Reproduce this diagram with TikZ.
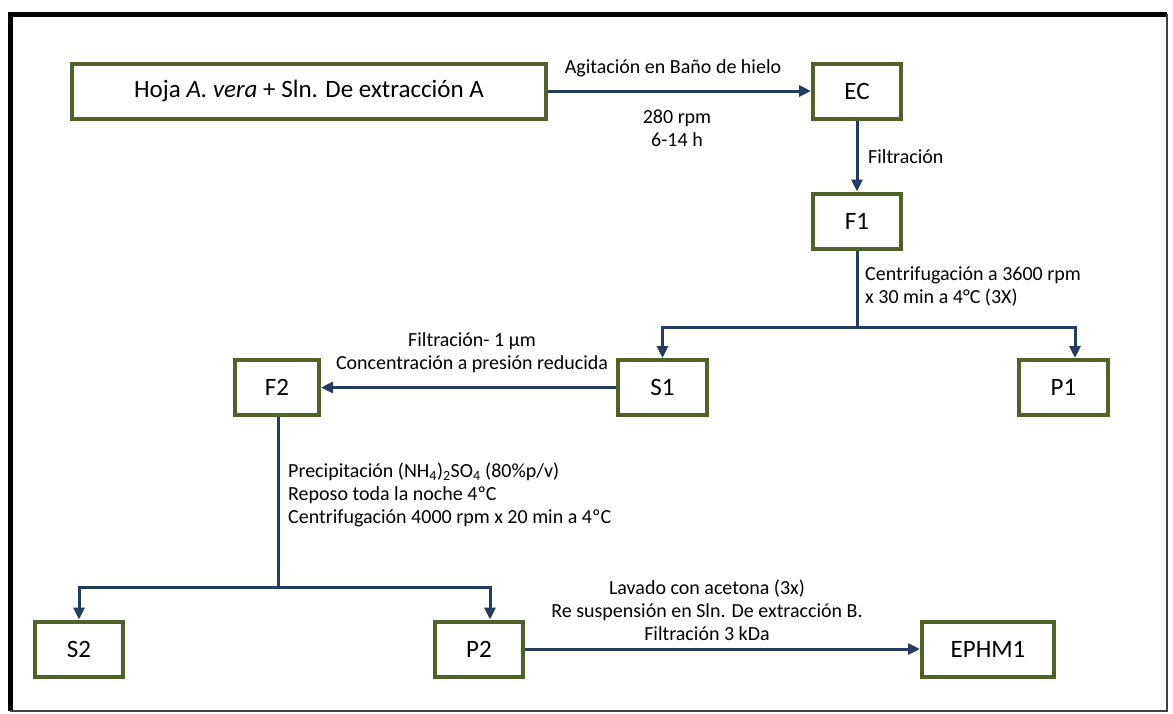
\documentclass[tikz,border=0pt]{standalone}
\usepackage{fontspec}
\setmainfont{Carlito}
\usetikzlibrary{arrows.meta}

\definecolor{boxgreen}{RGB}{79,98,40}
\definecolor{flowblue}{RGB}{36,60,96}

\tikzset{
  stage/.style={draw=boxgreen, line width=4pt, fill=white, minimum height=55pt,
    inner sep=0pt, font=\fontsize{25}{28}\selectfont},
  flow/.style={draw=flowblue, line width=3pt, -{Triangle[length=12pt,width=11pt]}},
  link/.style={draw=flowblue, line width=3pt},
  note/.style={font=\fontsize{20}{23}\selectfont, inner sep=0pt},
}

\begin{document}
\begin{tikzpicture}[x=1pt,y=-1pt]
    \useasboundingbox (0,0) rectangle (1173,713);

    % Outer frame
    \draw[line width=5pt] (10,711) -- (10,14) -- (1167,14);
    \draw[line width=2pt, black!75] (1167,14) -- (1167,711) -- (10,711);

    % Stages of the extraction
    \node[stage, minimum width=474pt] (hoja) at (309,91) {Hoja \textit{A. vera} + Sln. De extracción A};
    \node[stage, minimum width=88pt] (ec) at (857,91) {EC};
    \node[stage, minimum width=88pt] (f1) at (857,221) {F1};
    \node[stage, minimum width=89pt] (s1) at (662.5,387.5) {S1};
    \node[stage, minimum width=89pt] (p1) at (1063.5,387.5) {P1};
    \node[stage, minimum width=84pt] (f2) at (277,387.5) {F2};
    \node[stage, minimum width=88pt] (s2) at (79,649) {S2};
    \node[stage, minimum width=88pt] (p2) at (479,649) {P2};
    \node[stage, minimum width=132pt] (ephm1) at (988,649) {EPHM1};

    % Split points
    \coordinate (split1) at (857,327);
    \coordinate (split2) at (278,587);

    % Connectors
    \draw[flow] (hoja) -- (ec);
    \draw[flow] (ec) -- (f1);
    \draw[link] (f1) -- (split1);
    \draw[flow] (split1) -| (s1);
    \draw[flow] (split1) -| ([xshift=11.5pt]p1.north);
    \draw[flow] (s1) -- (f2);
    \draw[link] (f2.south -| split2) -- (split2);
    \draw[flow] (split2) -| (s2);
    \draw[flow] (split2) -| ([xshift=11pt]p2.north);
    \draw[flow] (p2) -- (ephm1);

    % Conditions
    \node[note] (agit) at (673,68) {Agitación en Baño de hielo};
    \node[note, align=center] (rpm) at (677,128) {280 rpm\\6-14 h};
    \node[note, anchor=west] (filt) at (868,157) {Filtración};
    \node[note, anchor=west, align=left] (centr) at (865,286) {Centrifugación a 3600 rpm\\x 30 min a 4°C (3X)};
    \node[note, align=center] (conc) at (472,353) {Filtración- 1 µm\\Concentración a presión reducida};
    \node[note, anchor=west, align=left] (prec) at (288,495)
      {Precipitación (NH\textsubscript{4})\textsubscript{2}SO\textsubscript{4} (80\%p/v)\\Reposo toda la noche 4ºC\\Centrifugación 4000 rpm x 20 min a 4ºC};
    \node[note, align=center] (lav) at (707,610)
      {Lavado con acetona (3x)\\Re suspensión en Sln. De extracción B.\\Filtración 3 kDa};
\end{tikzpicture}
\end{document}
